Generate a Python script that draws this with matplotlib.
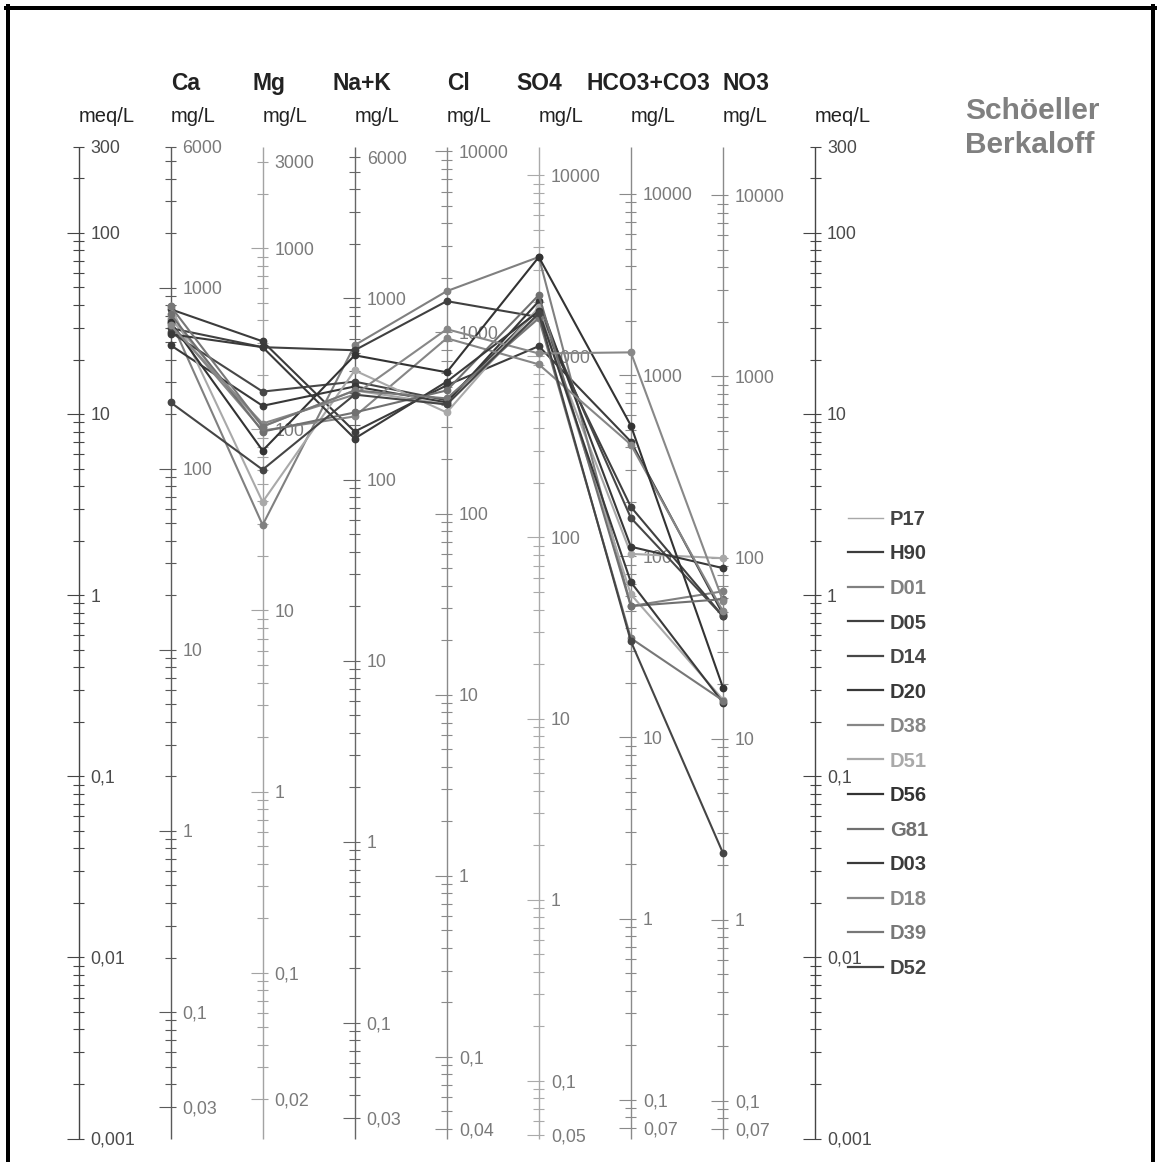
import numpy as np
import matplotlib
matplotlib.use("Agg")
import matplotlib.pyplot as plt
from matplotlib.lines import Line2D
from matplotlib.transforms import offset_copy

W, H, DPI = 1159, 1162, 100

# ---------------- data ----------------
ions = ["Ca", "Mg", "Na+K", "Cl", "SO4", "HCO3+CO3", "NO3"]
eq_weights = [20.04, 12.15, 23.0, 35.45, 48.03, 61.02, 62.0]

samples = ["P17", "H90", "D01", "D05", "D14", "D20", "D38",
           "D51", "D56", "G81", "D03", "D18", "D39", "D52"]
sample_colors = ["#a8a8a8", "#3c3c3c", "#808080", "#404040", "#474747", "#383838", "#868686",
                 "#a9a9a9", "#333333", "#707070", "#3a3a3a", "#888888", "#777777", "#454545"]

# concentrations in meq/L (one value per sample, same order as `samples`)
ca_meq   = [33.8, 37.9, 33.0, 29.8, 28.3, 24.0, 31.7, 39.4, 32.1, 35.6, 27.6, 30.9, 39.4, 11.6]
mg_meq   = [8.53, 25.2, 2.44, 23.4, 13.3, 11.1, 8.10, 3.27, 6.28, 8.00, 23.4, 8.86, 8.53, 4.93]
nak_meq  = [13.5, 8.00, 24.0, 22.5, 15.1, 14.2, 9.7, 17.4, 21.1, 10.2, 7.32, 12.8, 13.5, 12.8]
cl_meq   = [11.3, 14.4, 47.7, 42.0, 11.9, 11.6, 26.2, 10.2, 17.0, 13.5, 15.1, 29.4, 12.2, 11.3]
so4_meq  = [35.1, 23.7, 73.6, 34.3, 37.9, 42.0, 18.8, 38.9, 73.6, 45.4, 37.0, 21.6, 33.8, 36.0]
hco3_meq = [1.69, 7.04, 0.87, 3.07, 2.67, 1.85, 6.78, 1.01, 8.64, 0.87, 1.18, 21.9, 0.578, 0.556]
no3_meq  = [1.60, 0.785, 1.05, 0.765, 0.765, 1.41, 0.815, 0.265, 0.309, 0.95, 0.255, 0.93, 0.262, 0.0377]

meq_range = (0.001, 300)

# ---------------- styling / layout ----------------
axis_colors = ["#454545", "#5a5a5a", "#a3a3a3", "#666666", "#8a8a8a",
               "#aaaaaa", "#8a8a8a", "#8a8a8a", "#454545"]
label_colors = ["#4a4a4a"] + ["#7a7a7a"] * 7 + ["#4a4a4a"]
header_centers_px = [185.3, 268.7, 361.7, 458.0, 539.7, 648.8, 746.3]

FONT = ["Liberation Sans", "DejaVu Sans"]
NARROW = ["Liberation Sans Narrow", "Liberation Sans", "DejaVu Sans"]

x_left_px, x_right_px = 78.5, 815.0
y_top_px, y_bot_px = 146.5, 1138.5

fig = plt.figure(figsize=(W / DPI, H / DPI), dpi=DPI)
ax = fig.add_axes([x_left_px / W, 1 - y_bot_px / H,
                   (x_right_px - x_left_px) / W, (y_bot_px - y_top_px) / H])
ax.set_xlim(0, 8)
ax.set_yscale("log")
ax.set_ylim(*meq_range)
ax.axis("off")

pxu = (x_right_px - x_left_px) / 8.0  # pixels per x unit


def fmt(v):
    if v >= 1:
        return str(int(round(v)))
    s = ("%.6f" % v).rstrip("0")
    return s.replace(".", ",")


def axis_ticks(factor):
    lo, hi = meq_range[0] * factor, meq_range[1] * factor
    ticks = []
    for n in range(-4, 7):
        for k in range(1, 10):
            m = round(k * 10.0 ** n, 8)
            if lo * (1 - 1e-9) <= m <= hi * (1 + 1e-9):
                ticks.append((m, k == 1))
    return ticks


def draw_axis(i, factor, color, lcolor):
    ax.plot([i, i], list(meq_range), color=color, lw=1.0, zorder=1,
            clip_on=False, solid_capstyle="butt")
    ticks = axis_ticks(factor)
    vals = [t[0] for t in ticks]
    vmin, vmax = min(vals), max(vals)
    ys, x0s, x1s = [], [], []
    for m, major in ticks:
        long_tick = major or m == vmin
        left = 12 if long_tick else 5.5
        right = 5.5
        ys.append(m / factor)
        x0s.append(i - left / pxu)
        x1s.append(i + right / pxu)
    ax.hlines(ys, x0s, x1s, colors=color, lw=0.8, zorder=1, clip_on=False)
    trans = offset_copy(ax.transData, fig=fig, x=12, y=-6.4, units="dots")
    for m, major in ticks:
        if major or m == vmin or m == vmax:
            ax.text(i, m / factor, fmt(m), transform=trans, ha="left", va="baseline",
                    fontsize=12.8, family=NARROW, color=lcolor, zorder=1)


# meq axes on both sides
draw_axis(0, 1.0, axis_colors[0], label_colors[0])
draw_axis(8, 1.0, axis_colors[8], label_colors[8])
for j, ew in enumerate(eq_weights):
    draw_axis(j + 1, ew, axis_colors[j + 1], label_colors[j + 1])


def fx(px):
    return px / W


def fy(py):
    return 1 - py / H


# headers and units
for j, name in enumerate(ions):
    fig.text(fx(header_centers_px[j]), fy(90), name, ha="center", va="baseline",
             fontsize=16.5, fontweight="bold", family=FONT, color="#222222")
unit_x = [x_left_px + pxu * i for i in range(9)]
for i in range(9):
    unit = "meq/L" if i in (0, 8) else "mg/L"
    fig.text(fx(unit_x[i]), fy(121.7), unit, ha="left", va="baseline",
             fontsize=14.5, family=FONT, color="#222222")

# data lines
series = [ca_meq, mg_meq, nak_meq, cl_meq, so4_meq, hco3_meq, no3_meq]
xs = np.arange(1, 8)
for s, (name, col) in enumerate(zip(samples, sample_colors)):
    vals = [arr[s] for arr in series]
    ax.plot(xs, vals, color=col, lw=1.5, marker="o", ms=4.6, mec=col, mfc=col,
            zorder=3 + s * 0.01, clip_on=False)

# legend
leg_y0, leg_dy = 517.7, 34.54
for s, (name, col) in enumerate(zip(samples, sample_colors)):
    yy = leg_y0 + leg_dy * s
    lw = 1.0 if name == "P17" else 1.6
    fig.add_artist(Line2D([fx(848), fx(883)], [fy(yy), fy(yy)], color=col, lw=lw))
    tcol = "#444444" if name == "P17" else col
    fig.text(fx(890), fy(yy + 7.2), name, ha="left", va="baseline", fontsize=14.5,
             fontweight="bold", family=FONT, color=tcol)

# title
fig.text(fx(965), fy(119.3), "Schöeller", ha="left", va="baseline", fontsize=21.5,
         fontweight="bold", family=FONT, color="#808080")
fig.text(fx(965), fy(152.7), "Berkaloff", ha="left", va="baseline", fontsize=21.5,
         fontweight="bold", family=FONT, color="#808080")

# frame (left, top, right)
bw = 4 * 0.72
fig.add_artist(Line2D([fx(8), fx(8)], [fy(6), fy(H + 5)], color="black", lw=bw))
fig.add_artist(Line2D([fx(6), fx(1155)], [fy(8), fy(8)], color="black", lw=bw))
fig.add_artist(Line2D([fx(1153), fx(1153)], [fy(6), fy(H + 5)], color="black", lw=bw))

fig.savefig("out.png", dpi=DPI, facecolor="white")
